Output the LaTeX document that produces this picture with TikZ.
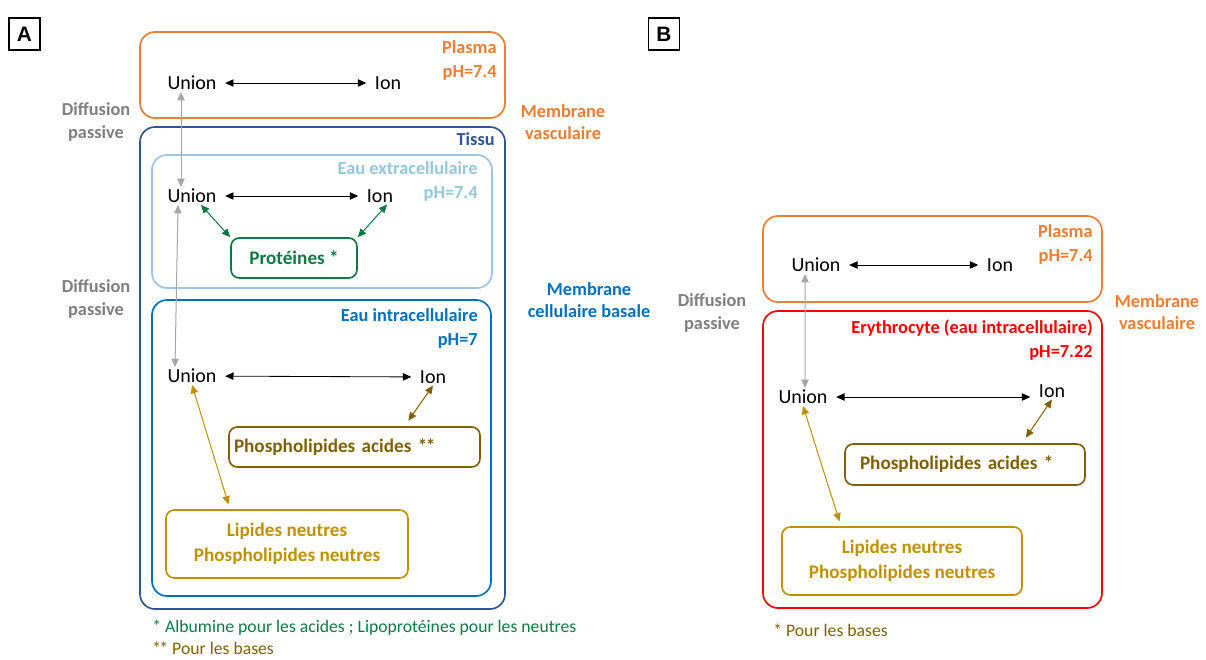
\documentclass[tikz,border=0pt]{standalone}
\usepackage{fontspec}
\setmainfont{Carlito}
\newfontfamily\arialfont{Liberation Sans}
\usepackage{xcolor}
\usepackage{tikz}
\usetikzlibrary{positioning}
\usetikzlibrary{arrows.meta}
\definecolor{plasmaorange}{HTML}{ED7D31}
\definecolor{tissublue}{HTML}{2F5597}
\definecolor{extrablue}{HTML}{9DC3E6}
\definecolor{extratext}{HTML}{92C7DC}
\definecolor{intrablue}{HTML}{0070C0}
\definecolor{protgreen}{HTML}{0B7A45}
\definecolor{phosbrown}{HTML}{7F6000}
\definecolor{lipgold}{HTML}{BF9000}
\definecolor{erythred}{HTML}{FF0000}
\definecolor{diffgrey}{HTML}{7F7F7F}
\definecolor{arrowgrey}{HTML}{A6A6A6}

\begin{document}
\begin{tikzpicture}[x=0.6pt, y=-0.6pt,
species/.style={inner sep=1pt, font=\fontsize{12}{14}\selectfont},
caption/.style={inner sep=0pt, align=right, font=\bfseries\fontsize{11}{14.4}\selectfont},
sidelabel/.style={inner sep=0pt, align=center, font=\bfseries\fontsize{11}{13.4}\selectfont},
footnote/.style={inner sep=0pt, anchor=west, font=\fontsize{10.6}{12}\selectfont},
compartment/.style={rounded corners=9pt, line width=1pt},
binder/.style={draw, rounded corners=5pt, line width=1pt, font=\bfseries\fontsize{11.5}{15}\selectfont},
panel/.style={draw, line width=1pt, minimum width=18.6pt, minimum height=19.2pt, font=\arialfont\bfseries\fontsize{12.5}{14}\selectfont},
equil/.style={{Triangle[length=5pt,width=4.4pt]}-{Triangle[length=5pt,width=4.4pt]}, line width=0.5pt, shorten <=4pt, shorten >=4pt},
diffarrow/.style={{Triangle[length=5pt,width=4.4pt]}-{Triangle[length=5pt,width=4.4pt]}, arrowgrey, line width=0.6pt},
bindarrow/.style={{Triangle[length=5pt,width=4.4pt]}-{Triangle[length=5pt,width=4.4pt]}, line width=0.6pt},
]
\useasboundingbox (0,0) rectangle (1206,659);
%Panel A
\node[panel] (pA) at (24.5,34) {A};
\draw[compartment, plasmaorange] (140,32) rectangle (505,118);
\draw[compartment, tissublue] (140,127) rectangle (505,609);
\draw[compartment, extrablue] (152,155) rectangle (492,288);
\draw[compartment, intrablue] (152,300) rectangle (491,596);
\node[caption, anchor=north east, text=plasmaorange] (plasA) at (497,40) {Plasma\\pH=7.4};
\node[caption, anchor=north east, text=tissublue] (tisA) at (495,132) {Tissu};
\node[caption, anchor=north east, text=extratext] (extA) at (478,161) {Eau extracellulaire\\pH=7.4};
\node[caption, anchor=north east, text=intrablue] (intA) at (478,308) {Eau intracellulaire\\pH=7};
\node[sidelabel, text=diffgrey] (diffA1) at (96,122) {Diffusion\\passive};
\node[sidelabel, text=diffgrey] (diffA2) at (96,299) {Diffusion\\passive};
\node[sidelabel, text=plasmaorange] (membA1) at (563,122) {Membrane\\vasculaire};
\node[sidelabel, text=intrablue] (membA2) at (589,300) {Membrane\\cellulaire basale};
\node[species] (uA1) at (192,83) {Union};
\node[species] (iA1) at (388,83) {Ion};
\node[species] (uA2) at (192,196) {Union};
\node[species] (iA2) at (380,196) {Ion};
\node[species] (uA3) at (192,376) {Union};
\node[species] (iA3) at (433,377) {Ion};
\node[binder, draw=protgreen, text=protgreen, minimum width=75.6pt, minimum height=24pt] (protA) at (294,258) {Protéines *};
\node[binder, draw=phosbrown, text=phosbrown, minimum height=24pt, text width=144.6pt, inner xsep=3pt, align=left] (phosA) at (354.5,447) {Phospholipides acides *\kern-1pt*};
\node[binder, draw=lipgold, text=lipgold, minimum width=145.2pt, minimum height=40.8pt, align=center] (lipA) at (287,544) {Lipides neutres\\Phospholipides neutres};
\node[footnote, text=protgreen] (noteA1) at (152,628) {* Albumine pour les acides ; Lipoprotéines pour les neutres};
\node[footnote, text=phosbrown] (noteA2) at (152,648) {*\kern-1pt* Pour les bases};
%Lines A
\draw[equil] (uA1) -- (iA1);
\draw[equil] (uA2) -- (iA2);
\draw[equil] (uA3) -- (iA3);
\draw[diffarrow] ([xshift=-6.6pt]uA1.south) -- ([xshift=-6.6pt]uA2.north);
\draw[diffarrow] ([xshift=-8.4pt]uA2.south) -- ([xshift=-10.2pt]uA3.north);
\draw[bindarrow, protgreen] (uA2.-45) -- (protA.north west);
\draw[bindarrow, protgreen] (iA2.-50) -- (protA.north east);
\draw[bindarrow, lipgold, shorten >=3pt] (uA3.south) -- ([xshift=-34.2pt]lipA.north);
\draw[bindarrow, phosbrown, shorten >=4pt] (iA3.south) -- ([xshift=30pt]phosA.north);
%Panel B
\node[panel] (pB) at (664,34) {B};
\draw[compartment, plasmaorange] (763,216) rectangle (1102,302);
\draw[compartment, erythred] (763,311) rectangle (1102,608);
\node[caption, anchor=north east, text=plasmaorange] (plasB) at (1093,224) {Plasma\\pH=7.4};
\node[caption, anchor=north east, text=erythred] (eryB) at (1093,320) {Erythrocyte (eau intracellulaire)\\pH=7.22};
\node[sidelabel, text=diffgrey] (diffB) at (712,313) {Diffusion\\passive};
\node[sidelabel, text=plasmaorange] (membB) at (1157,312) {Membrane\\vasculaire};
\node[species] (uB1) at (816,265) {Union};
\node[species] (iB1) at (1000,265) {Ion};
\node[species] (uB2) at (803,397) {Union};
\node[species] (iB2) at (1052,391) {Ion};
\node[binder, draw=phosbrown, text=phosbrown, minimum height=24.6pt, text width=126pt, inner xsep=9pt, align=left] (phosB) at (965,464.5) {Phospholipides acides *};
\node[binder, draw=lipgold, text=lipgold, minimum width=144pt, minimum height=40.8pt, align=center] (lipB) at (902,561) {Lipides neutres\\Phospholipides neutres};
\node[footnote, text=phosbrown] (noteB) at (773,630) {* Pour les bases};
%Lines B
\draw[equil] (uB1) -- (iB1);
\draw[equil] (uB2.east) -- (iB2.west |- uB2.east);
\draw[diffarrow] ([xshift=-6.6pt]uB1.south) -- ([xshift=1.2pt]uB2.north);
\draw[bindarrow, lipgold, shorten >=3pt] (uB2.south) -- ([xshift=-36.6pt]lipB.north);
\draw[bindarrow, phosbrown, shorten >=4pt] (iB2.south) -- ([xshift=34.2pt]phosB.north);
\end{tikzpicture}
\end{document}
